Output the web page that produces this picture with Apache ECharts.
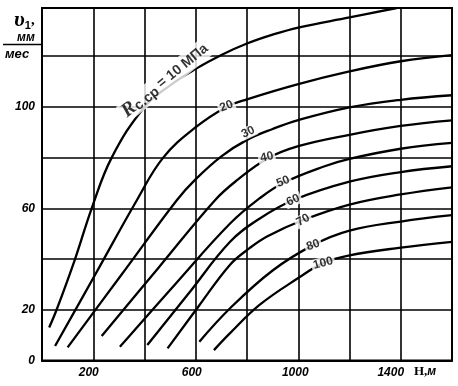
<!DOCTYPE html>
<html><head><meta charset="utf-8">
<script src="https://cdn.jsdelivr.net/npm/echarts/dist/echarts.min.js"></script>
<style>html,body{margin:0;padding:0;background:#fff}#c{width:458px;height:386px}</style>
</head><body><div id="c"></div>
<script>
// Curves: [H (m), v1 (mm/month)] for R c.cp = 10 ... 100 MPa
const r10  = [[28,13],[57,20],[129,40],[194,60],[272,80],[400,100],[500,108.5],[600,115],[700,120.5],[800,125],[900,128.5],[1000,131.3],[1200,135.3],[1384,139]];
const r20  = [[51,5.7],[210,34.3],[369,63],[473,80],[600,92],[720,100],[800,103],[1000,109],[1200,114],[1400,118],[1600,120.4]];
const r30  = [[100,5.2],[313,34.2],[526,63.2],[600,71.5],[700,80.5],[800,87],[900,91.3],[1000,94.8],[1200,99.8],[1400,102.8],[1600,104.6]];
const r40  = [[233,9.7],[454,36.5],[675,63.2],[760,71],[877,79.5],[1000,84.5],[1200,89],[1400,92.5],[1600,94.7]];
const r50  = [[304,5.4],[519,30],[734,54],[850,64],[941,70],[1100,76.5],[1200,79.5],[1400,83.5],[1600,85.8]];
const r60  = [[411,6.1],[572,26.4],[734,46.8],[850,56],[980,63.2],[1200,70.5],[1400,74.3],[1600,76.6]];
const r70  = [[490,4.8],[612,21.5],[734,37.8],[810,44.3],[880,49],[1019,55.4],[1200,61.5],[1400,65.5],[1600,68.3]];
const r80  = [[614,7.4],[734,20.6],[900,35.5],[1058,45.5],[1200,51.2],[1400,54.8],[1600,57.3]];
const r100 = [[671,4.1],[734,10.8],[850,22],[1000,32.5],[1097,38.4],[1200,41.5],[1400,44.5],[1600,46.8]];
const curves = [r10, r20, r30, r40, r50, r60, r70, r80, r100];

const xTickLabels = [200, 600, 1000, 1400];
const yTickLabels = [0, 20, 60, 100];

// curve labels (text + anchor in data units)
const labelText = ['{R|R}{s|с.ср}{t| = 10 МПа}', '20', '30', '40', '50', '60', '70', '80', '100'];
const labelH = [480, 720, 804, 877, 941, 980, 1019, 1058, 1097];
const labelV = [110.5, 100.3, 90, 80.2, 70.5, 63.2, 55.4, 45.5, 38.4];
const labelRot = [39, 22, 25, 12, 22, 25, 30, 20, 15];

const chart = echarts.init(document.getElementById('c'), null, {renderer: 'canvas'});
const numFont = {fontFamily: '"Liberation Sans", Arial, sans-serif', fontStyle: 'italic', fontWeight: 'bold', fontSize: 12, color: '#000'};
const xPad = {200: 9, 600: 8, 1000: 6, 1400: 20};

const series = curves.map(d => ({
  type: 'line', data: d, smooth: 0.4, symbol: 'none',
  lineStyle: {color: '#000', width: 2.3}, z: 3, silent: true, clip: true
}));
series.push({
  type: 'scatter', z: 10, symbolSize: 0, silent: true,
  data: labelH.map((h, i) => ({
    value: [h, labelV[i]],
    label: {
      show: true, position: 'inside', formatter: labelText[i], rotate: labelRot[i],
      color: '#000', fontFamily: '"Liberation Sans", Arial, sans-serif', fontWeight: 'bold', fontSize: 12,
      backgroundColor: '#fff', padding: [0, 2],
      rich: {
        R: {fontFamily: '"Liberation Serif", serif', fontStyle: 'italic', fontWeight: 'bold', fontSize: 20, color: '#000'},
        s: {fontFamily: '"Liberation Sans", sans-serif', fontWeight: 'bold', fontSize: 14, color: '#000', verticalAlign: 'bottom', padding: [6, 0, 0, 0]},
        t: {fontFamily: '"Liberation Sans", sans-serif', fontWeight: 'bold', fontSize: 14, color: '#000'}
      }
    }
  }))
});

const xRich = {};
Object.keys(xPad).forEach(k => { xRich['p' + k] = Object.assign({padding: [0, xPad[k], 0, 0]}, numFont); });

chart.setOption({
  animation: false,
  backgroundColor: '#fff',
  grid: {left: 42, right: 6, top: 8, bottom: 25.5, show: true, borderColor: '#000', borderWidth: 2, backgroundColor: 'transparent'},
  xAxis: {
    type: 'value', min: 0, max: 1600, interval: 200,
    axisLine: {show: true, lineStyle: {color: '#000', width: 2}},
    axisTick: {show: false},
    splitLine: {show: true, lineStyle: {color: '#000', width: 1.6}},
    axisLabel: Object.assign({margin: 6, rich: xRich,
      formatter: v => xTickLabels.includes(v) ? '{p' + v + '|' + v + '}' : ''}, numFont)
  },
  yAxis: {
    type: 'value', min: 0, max: 139, interval: 20,
    axisLine: {show: true, lineStyle: {color: '#000', width: 2}},
    axisTick: {show: false},
    splitLine: {show: true, lineStyle: {color: '#000', width: 1.6}},
    axisLabel: Object.assign({margin: 7, formatter: v => yTickLabels.includes(v) ? String(v) : ''}, numFont)
  },
  graphic: [
    {type: 'text', x: 14, y: 9, style: {text: '{a|υ}{b|1},', rich: {
      a: {font: 'italic bold 22px "Liberation Serif", serif', fill: '#000'},
      b: {font: 'bold 11px "Liberation Sans", sans-serif', fill: '#000', verticalAlign: 'bottom'}
    }, font: 'bold 15px "Liberation Serif", serif', fill: '#000'}},
    {type: 'text', x: 17, y: 32, style: {text: 'мм', font: 'italic bold 12px "Liberation Sans", sans-serif', fill: '#000'}},
    {type: 'line', shape: {x1: 3, y1: 44.5, x2: 42, y2: 44.5}, style: {stroke: '#000', lineWidth: 1.5}},
    {type: 'text', x: 5, y: 48, style: {text: 'мес', font: 'italic bold 13px "Liberation Sans", sans-serif', fill: '#000'}},
    {type: 'text', x: 414, y: 365, style: {text: '{h|H,}{m|м}', rich: {
      h: {font: 'bold 13px "Liberation Serif", serif', fill: '#000'},
      m: {font: 'italic bold 12px "Liberation Sans", sans-serif', fill: '#000'}
    }}}
  ],
  series: series
});
</script></body></html>
